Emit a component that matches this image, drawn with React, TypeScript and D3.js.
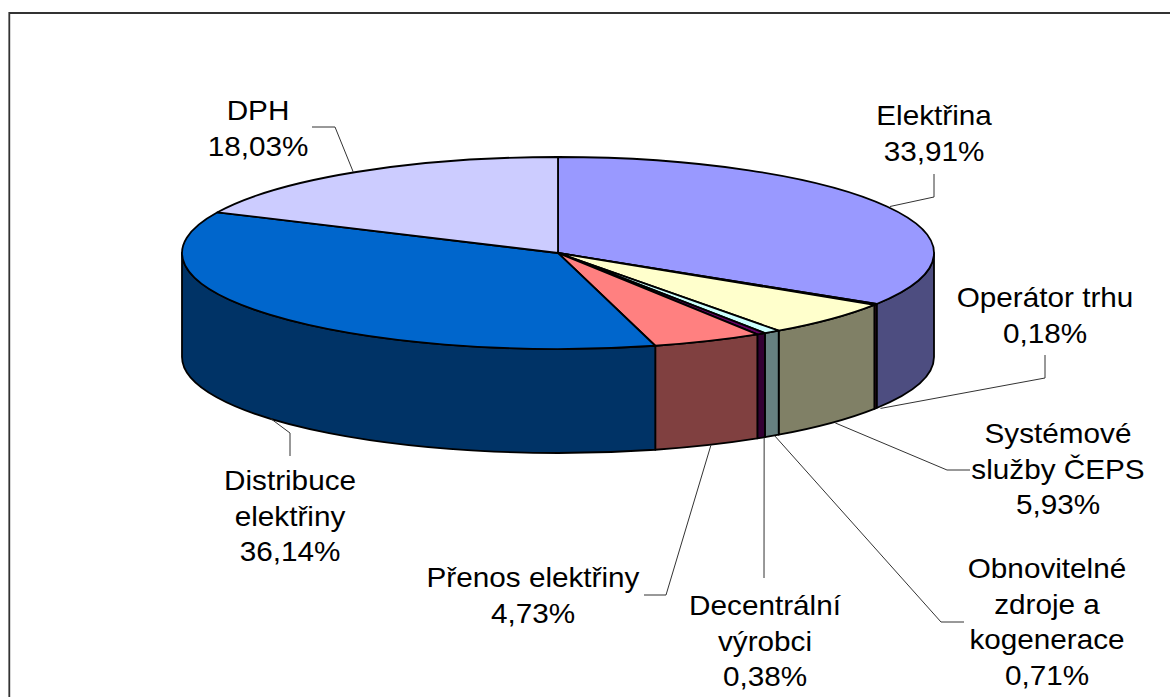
import React from 'react'
import * as d3 from 'd3'

// slices run clockwise from 12 o'clock
const categories = ['Elektřina', 'Operátor trhu', 'Systémové služby ČEPS', 'Obnovitelné zdroje a kogenerace', 'Decentrální výrobci', 'Přenos elektřiny', 'Distribuce elektřiny', 'DPH']
const shares = [33.91, 0.18, 5.93, 0.71, 0.38, 4.73, 36.14, 18.03]
const shareLabels = ['33,91%', '0,18%', '5,93%', '0,71%', '0,38%', '4,73%', '36,14%', '18,03%']
const topColors = ['#9999ff', '#993366', '#ffffcc', '#ccffff', '#660066', '#ff8080', '#0066cc', '#ccccff']
const sideColors = ['#4d4d80', '#4d1a33', '#808066', '#668080', '#330033', '#804040', '#003366', '#666680']

// how each label wraps, where it sits and how its leader bends
const labelLines = [
  ['Elektřina'],
  ['Operátor trhu'],
  ['Systémové', 'služby ČEPS'],
  ['Obnovitelné', 'zdroje a', 'kogenerace'],
  ['Decentrální', 'výrobci'],
  ['Přenos elektřiny'],
  ['Distribuce', 'elektřiny'],
  ['DPH']
]
const labelX = [934, 1045, 1058, 1047, 765, 533, 290, 258]
const labelY = [125, 307, 443, 578, 615, 587, 490, 120]
const leaderShift = [3, 5, 4, 3, 3, 3, 1, -3]
const leaderBends = [
  [[934, 197], [934, 174]],
  [[1045, 378], [1045, 355]],
  [[947, 470], [970, 470]],
  [[941, 622], [964, 622]],
  [[764, 578]],
  [[666, 595], [644, 595]],
  [[290, 433], [290, 456]],
  [[335, 127], [312, 127]]
]

const cx = 558
const cy = 253
const rx = 376
const ry = 96
const depth = 104
const lineHeight = 35.7

const rim = (a: number, drop = 0): [number, number] => [cx + rx * Math.sin(a), cy - ry * Math.cos(a) + drop]
const sweep = (a0: number, a1: number, drop = 0, back = false) => {
  const [x, y] = rim(back ? a0 : a1, drop)
  return `A${rx},${ry} 0 ${a1 - a0 > Math.PI ? 1 : 0} ${back ? 0 : 1} ${x},${y}`
}

export default function App() {
  const slices = d3.pie<number>().sort(null)(shares)
  const line = d3.line()

  return (
    <svg width={1170} height={697} style={{ position: 'absolute', left: 0, top: 0, background: '#fff' }}>
      {/* the frame is cropped: only its top and left edges are in the picture */}
      <path d="M9.3,697V13H1170" fill="none" stroke="#333" strokeWidth={1.8} />

      {/* only the front half of the cylinder wall shows */}
      {slices.map((s, i) => {
        const a0 = Math.max(s.startAngle, Math.PI / 2)
        const a1 = Math.min(s.endAngle, (Math.PI * 3) / 2)
        if (a1 <= a0) return null
        const [x0, y0] = rim(a0)
        const [x1, y1] = rim(a1, depth)
        return (
          <path
            key={i}
            d={`M${x0},${y0}${sweep(a0, a1)}L${x1},${y1}${sweep(a0, a1, depth, true)}Z`}
            fill={sideColors[i]}
            stroke="#000"
            strokeWidth={1.8}
            strokeLinejoin="round"
          />
        )
      })}

      {slices.map((s, i) => {
        const [x0, y0] = rim(s.startAngle)
        return (
          <path
            key={i}
            d={`M${cx},${cy}L${x0},${y0}${sweep(s.startAngle, s.endAngle)}Z`}
            fill={topColors[i]}
            stroke="#000"
            strokeWidth={1.8}
            strokeLinejoin="round"
          />
        )
      })}

      {slices.map((s, i) => {
        const mid = (s.startAngle + s.endAngle) / 2
        // leaders leave the wall on the front, the top rim at the back
        const onFront = Math.cos(mid) < 0 && i !== 0
        const [sx, sy] = rim(mid, onFront ? depth : 0)
        return (
          <path
            key={i}
            d={line([[sx + leaderShift[i], sy], ...leaderBends[i]] as [number, number][]) ?? ''}
            fill="none"
            stroke="#333"
            strokeWidth={1}
          />
        )
      })}

      <g fontFamily="Liberation Sans, Arial, sans-serif" fontSize={27} fill="#000" textAnchor="middle">
        {categories.map((c, i) => (
          <text key={c} transform={`translate(${labelX[i]},${labelY[i]}) scale(1.1,1)`}>
            {[...labelLines[i], shareLabels[i]].map((t, j) => (
              <tspan key={j} x={0} y={j * lineHeight}>
                {t}
              </tspan>
            ))}
          </text>
        ))}
      </g>
    </svg>
  )
}
